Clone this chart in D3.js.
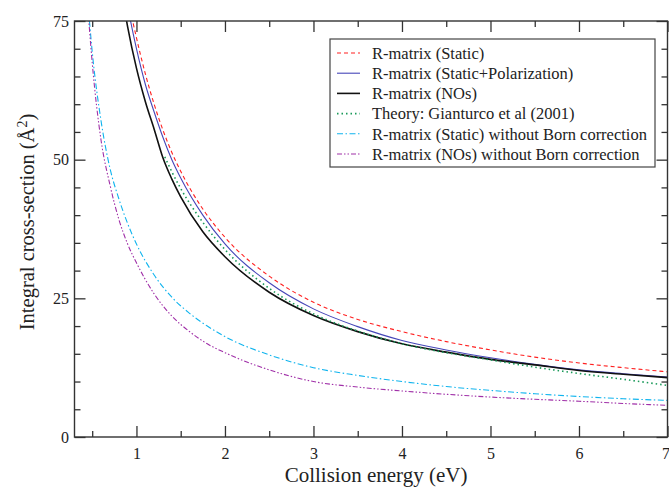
<!DOCTYPE html>
<html>
<head>
<meta charset="utf-8">
<script src="https://cdn.jsdelivr.net/npm/d3@7"></script>
<style>
  body { margin: 0; background: #fff; }
  svg text { font-family: "Liberation Serif", "DejaVu Serif", serif !important; fill: #222; }
</style>
</head>
<body>
<div id="chart"></div>
<script>
// data
var energyMain = [0.85, 0.9, 1.0, 1.1, 1.2, 1.3, 1.4, 1.5, 1.75, 2.0, 2.5, 3.0, 3.5, 4.0, 4.5, 5.0, 5.5, 6.0, 6.5, 7.0];
var staticVals = [84.5, 79.5, 72, 65.5, 60, 55.3, 51.3, 47.9, 41.1, 36.0, 29.0, 24.3, 21.2, 19.0, 17.2, 15.7, 14.4, 13.35, 12.5, 11.75];
var polarVals  = [82.5, 77.8, 70, 63.6, 58.6, 54.0, 50.0, 46.7, 40.0, 34.8, 27.8, 23.1, 19.9, 17.4, 15.7, 14.3, 13.1, 12.1, 11.4, 10.8];
var nosVals    = [78.5, 74, 66.5, 60.5, 55.5, 50.3, 46.5, 43.3, 37.0, 32.5, 26.1, 21.9, 19.0, 16.8, 15.3, 14.0, 13.0, 12.0, 11.3, 10.7];

var energyTheory = [1.32, 1.4, 1.5, 1.75, 2.0, 2.5, 3.0, 3.5, 4.0, 4.5, 5.0, 5.5, 6.0, 6.5, 7.0];
var theoryVals   = [50.5, 47.8, 44.8, 38.7, 33.8, 26.8, 22.2, 19.1, 16.8, 15.2, 13.9, 12.6, 11.45, 10.4, 9.3];

var energyNoBorn = [0.42, 0.45, 0.5, 0.6, 0.7, 0.8, 0.9, 1.0, 1.2, 1.4, 1.6, 1.8, 2.0, 2.5, 3.0, 3.5, 4.0, 4.5, 5.0, 5.5, 6.0, 6.5, 7.0];
var staticNoBorn = [84, 78.5, 69.5, 57, 48.5, 43, 38.5, 34.8, 29.2, 25.2, 22.3, 20.0, 18.1, 14.8, 12.5, 11.1, 10.0, 9.1, 8.4, 7.8, 7.3, 6.9, 6.6];
var nosNoBorn    = [84, 77.5, 67.5, 53.5, 45.5, 39.3, 34.8, 31.4, 25.8, 21.8, 19.0, 16.8, 15.2, 12.1, 10.0, 9.0, 8.3, 7.7, 7.2, 6.8, 6.45, 6.05, 5.7];

var seriesNames = ["R-matrix (Static)", "R-matrix (Static+Polarization)", "R-matrix (NOs)",
  "Theory: Gianturco et al (2001)", "R-matrix (Static) without Born correction",
  "R-matrix (NOs) without Born correction"];

var xTicks = [1, 2, 3, 4, 5, 6, 7];
var xMinor = [0.5, 1.5, 2.5, 3.5, 4.5, 5.5, 6.5];
var yTicks = [0, 25, 50, 75];
var yMinor = [5, 10, 15, 20, 30, 35, 40, 45, 55, 60, 65, 70];

var series = [
  {name: seriesNames[0], x: energyMain, y: staticVals, color: "#ff2020", dash: "4,3", w: 1.1},
  {name: seriesNames[1], x: energyMain, y: polarVals, color: "#4646b8", dash: null, w: 1.1},
  {name: seriesNames[2], x: energyMain, y: nosVals, color: "#111", dash: null, w: 1.6},
  {name: seriesNames[3], x: energyTheory, y: theoryVals, color: "#1a9a5a", dash: "1.5,3", w: 1.6},
  {name: seriesNames[4], x: energyNoBorn, y: staticNoBorn, color: "#10b4ee", dash: "6,2.5,1.5,2.5", w: 1.1},
  {name: seriesNames[5], x: energyNoBorn, y: nosNoBorn, color: "#a030a8", dash: "5,2,1.5,2,1.5,2", w: 1.1}
];

var serif = "'Liberation Serif', 'DejaVu Serif', serif";
var W = 669, H = 488;
var margin = {top: 21, right: 1.5, bottom: 51, left: 74.5};
var width = W - margin.left - margin.right,
    height = H - margin.top - margin.bottom;

var svg = d3.select("#chart").append("svg")
  .attr("width", W).attr("height", H)
  .attr("font-family", serif);
var g = svg.append("g").attr("transform", "translate(" + margin.left + "," + margin.top + ")");

var xScale = d3.scaleLinear().domain([0.3, 7]).range([0, width]);
var yScale = d3.scaleLinear().domain([0, 75]).range([height, 0]);

g.append("clipPath").attr("id", "clip")
  .append("rect").attr("width", width).attr("height", height);

// curves
var line = d3.line()
  .x(function(d){ return xScale(d[0]); })
  .y(function(d){ return yScale(d[1]); })
  .curve(d3.curveMonotoneX);

var curves = g.append("g").attr("clip-path", "url(#clip)");
series.forEach(function(s){
  var pts = s.x.map(function(e, i){ return [e, s.y[i]]; });
  curves.append("path")
    .datum(pts)
    .attr("d", line)
    .attr("fill", "none")
    .attr("stroke", s.color)
    .attr("stroke-width", s.w)
    .attr("stroke-dasharray", s.dash);
});

// axes, ticks pointing inward on all four sides
function styleAxis(sel){
  sel.attr("font-family", serif);
  sel.select(".domain").remove();
  sel.selectAll("line").attr("stroke", "#333").attr("stroke-width", 1.3);
  sel.selectAll("text").attr("font-family", serif).attr("font-size", 16).attr("fill", "#222");
}
var xAxisG = g.append("g").attr("transform", "translate(0," + height + ")")
  .call(d3.axisBottom(xScale).tickValues(xTicks).tickSize(-11).tickPadding(10.5).tickFormat(d3.format("d")))
  .call(styleAxis);
// last label sits on the edge of the window
xAxisG.selectAll("text").filter(function(d){ return d === 7; })
  .attr("text-anchor", "end").attr("x", 2);
g.append("g").attr("transform", "translate(0," + height + ")")
  .call(d3.axisBottom(xScale).tickValues(xMinor).tickSize(-6).tickFormat(""))
  .call(styleAxis);
g.append("g")
  .call(d3.axisTop(xScale).tickValues(xTicks).tickSize(-11).tickFormat(""))
  .call(styleAxis);
g.append("g")
  .call(d3.axisTop(xScale).tickValues(xMinor).tickSize(-6).tickFormat(""))
  .call(styleAxis);
g.append("g")
  .call(d3.axisLeft(yScale).tickValues(yTicks).tickSize(-11).tickPadding(5.5).tickFormat(d3.format("d")))
  .call(styleAxis);
g.append("g")
  .call(d3.axisLeft(yScale).tickValues(yMinor).tickSize(-6).tickFormat(""))
  .call(styleAxis);
g.append("g").attr("transform", "translate(" + width + ",0)")
  .call(d3.axisRight(yScale).tickValues(yTicks).tickSize(-11).tickFormat(""))
  .call(styleAxis);
g.append("g").attr("transform", "translate(" + width + ",0)")
  .call(d3.axisRight(yScale).tickValues(yMinor).tickSize(-6).tickFormat(""))
  .call(styleAxis);

// frame
g.append("rect")
  .attr("width", width).attr("height", height)
  .attr("fill", "none").attr("stroke", "#333").attr("stroke-width", 1.4);

// axis titles
svg.append("text")
  .attr("x", margin.left + width / 2 + 5).attr("y", 482)
  .attr("text-anchor", "middle")
  .attr("font-size", 21)
  .text("Collision energy (eV)");

var yt = svg.append("text")
  .attr("transform", "translate(34,222) rotate(-90)")
  .attr("text-anchor", "middle")
  .attr("font-size", 20.5);
yt.append("tspan").text("Integral cross-section (Å");
yt.append("tspan").attr("dy", "-0.5em").attr("font-size", 14).text("2");
yt.append("tspan").attr("dy", "0.35em").text(")");

// legend
var legend = svg.append("g");
legend.append("rect")
  .attr("x", 330).attr("y", 39).attr("width", 325).attr("height", 128)
  .attr("fill", "#fff").attr("stroke", "#444").attr("stroke-width", 1.2);
series.forEach(function(s, i){
  var ly = 53 + i * 20.2;
  legend.append("line")
    .attr("x1", 337).attr("x2", 360).attr("y1", ly).attr("y2", ly)
    .attr("stroke", s.color).attr("stroke-width", s.w)
    .attr("stroke-dasharray", s.dash);
  legend.append("text")
    .attr("x", 372).attr("y", ly).attr("dy", "0.35em")
    .attr("font-size", 16.5)
    .text(s.name);
});
</script>
</body>
</html>
